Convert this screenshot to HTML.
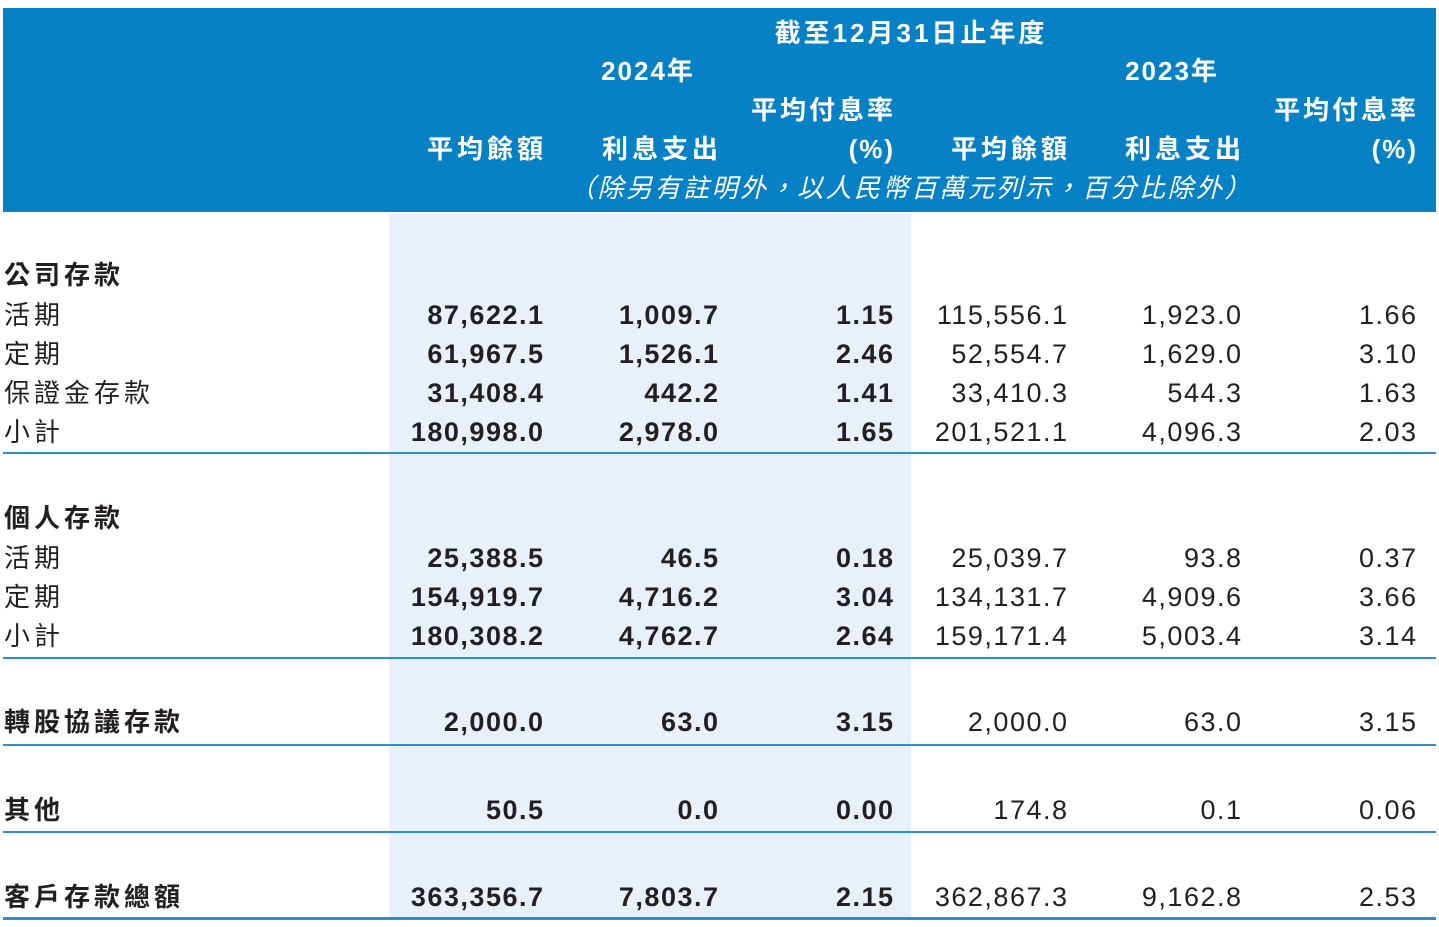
<!DOCTYPE html>
<html><head><meta charset="utf-8"><style>
body{margin:0;width:1439px;height:927px;background:#fff;position:relative;overflow:hidden;font-family:"Liberation Sans","Noto Sans CJK TC",sans-serif;color:#231f20}
.hdr{position:absolute;left:3px;top:8px;width:1433px;height:204px;background:#0781c6}
.band{position:absolute;left:389px;top:214px;width:522px;height:704px;background:#e8f1fa}
.t{position:absolute;font-size:26px;line-height:30px;white-space:nowrap}
.w{color:#fff;font-weight:bold}
.r{text-align:right;width:200px}
.n{font-size:27px;letter-spacing:1.5px}
.b{font-weight:bold}
.ln{position:absolute;left:3px;width:1433px;height:2px;background:#2a8fd0}
</style></head><body>
<div class="hdr"></div>
<div class="band"></div>
<div class="t w" style="left:561px;width:700px;text-align:center;top:18px;letter-spacing:3px">截至12月31日止年度</div>
<div class="t w" style="left:548px;width:200px;text-align:center;top:56px;letter-spacing:2px">2024年</div>
<div class="t w" style="left:1072px;width:200px;text-align:center;top:56px;letter-spacing:2px">2023年</div>
<div class="t w r" style="left:696px;top:95px;letter-spacing:3px">平均付息率</div>
<div class="t w r" style="left:1219px;top:95px;letter-spacing:3px">平均付息率</div>
<div class="t w r" style="left:347px;top:134px;letter-spacing:4px">平均餘額</div>
<div class="t w r" style="left:522px;top:134px;letter-spacing:4px">利息支出</div>
<div class="t w r" style="left:695px;top:134px;letter-spacing:2px">(%)</div>
<div class="t w r" style="left:871px;top:134px;letter-spacing:4px">平均餘額</div>
<div class="t w r" style="left:1045px;top:134px;letter-spacing:4px">利息支出</div>
<div class="t w r" style="left:1218px;top:134px;letter-spacing:2px">(%)</div>
<div class="t w" style="left:511px;width:800px;text-align:center;top:173px;font-style:italic;font-weight:normal;letter-spacing:2.5px">（除另有註明外，以人民幣百萬元列示，百分比除外）</div>

<div class="ln" style="top:452px"></div>
<div class="ln" style="top:657px"></div>
<div class="ln" style="top:744px"></div>
<div class="ln" style="top:831px"></div>
<div class="ln" style="top:917px;height:3px"></div>

<div class="t b" style="left:4px;top:260px;letter-spacing:4px">公司存款</div>
<div class="t b" style="left:4px;top:503px;letter-spacing:4px">個人存款</div>

<div id="rows"></div>
<script>
var rows=[
[300,"活期","87,622.1","1,009.7","1.15","115,556.1","1,923.0","1.66",0],
[339,"定期","61,967.5","1,526.1","2.46","52,554.7","1,629.0","3.10",0],
[378,"保證金存款","31,408.4","442.2","1.41","33,410.3","544.3","1.63",0],
[417,"小計","180,998.0","2,978.0","1.65","201,521.1","4,096.3","2.03",0],
[543,"活期","25,388.5","46.5","0.18","25,039.7","93.8","0.37",0],
[582,"定期","154,919.7","4,716.2","3.04","134,131.7","4,909.6","3.66",0],
[621,"小計","180,308.2","4,762.7","2.64","159,171.4","5,003.4","3.14",0],
[707,"轉股協議存款","2,000.0","63.0","3.15","2,000.0","63.0","3.15",1],
[795,"其他","50.5","0.0","0.00","174.8","0.1","0.06",1],
[882,"客戶存款總額","363,356.7","7,803.7","2.15","362,867.3","9,162.8","2.53",1]];
var rx=[543,718,893,1067,1241,1416],h="";
rows.forEach(function(r){
h+='<div class="t'+(r[8]?' b':'')+'" style="left:4px;top:'+r[0]+'px;letter-spacing:4px">'+r[1]+'</div>';
for(var i=0;i<6;i++){h+='<div class="t r n'+(i<3?' b':'')+'" style="left:'+(rx[i]-198.5)+'px;top:'+r[0]+'px">'+r[2+i]+'</div>';}
});
document.getElementById("rows").innerHTML=h;
</script>
</body></html>
